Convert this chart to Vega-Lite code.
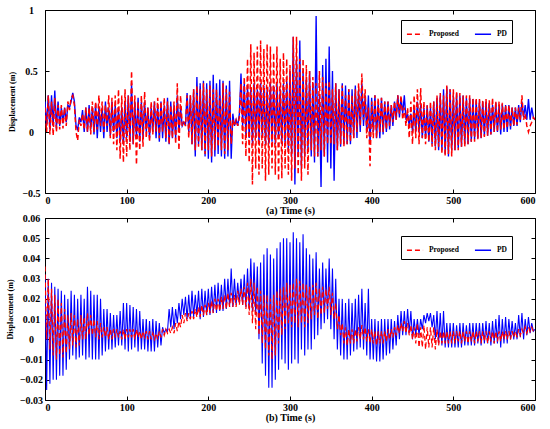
{
"$schema":"https://vega.github.io/schema/vega-lite/v6.json",
"padding":{"top":4,"left":5,"right":5,"bottom":2},
"spacing":-4,
"resolve":{"scale":{"color":"independent","strokeDash":"independent"},"legend":{"color":"independent","strokeDash":"independent"}},
"config":{
 "view":{"stroke":"black","strokeWidth":1},
 "font":"Liberation Serif",
 "axis":{"grid":false,"domain":false,"tickSize":-4,"tickColor":"black","labelFont":"Liberation Serif","labelFontWeight":"bold","labelFontSize":10,"labelColor":"black","titleFont":"Liberation Serif","titleFontWeight":"bold","titleColor":"black"},
 "legend":{"orient":"none","direction":"horizontal","strokeColor":"black","fillColor":"white","padding":5,"labelFont":"Liberation Serif","labelFontWeight":"bold","labelFontSize":7.5,"labelColor":"black","symbolSize":260,"symbolStrokeWidth":1.5,"columnPadding":12,"labelOffset":5}
},
"datasets":{"d":[
{"t":0,"a":0.2,"b":0.25,"c":0.036,"d":0.032},
{"t":2,"a":0.0,"b":0.05,"c":0.0,"d":-0.025},
{"t":4,"a":0.3,"b":0.3,"c":0.03,"d":0.03},
{"t":6,"a":-0.02,"b":0.02,"c":-0.005,"d":-0.022},
{"t":8,"a":0.25,"b":0.3,"c":0.025,"d":0.028},
{"t":10,"a":-0.03,"b":0.05,"c":-0.008,"d":-0.02},
{"t":12,"a":0.28,"b":0.34,"c":0.022,"d":0.026},
{"t":14,"a":0.0,"b":0.03,"c":-0.01,"d":-0.02},
{"t":16,"a":0.22,"b":0.25,"c":0.02,"d":0.025},
{"t":18,"a":0.02,"b":0.05,"c":-0.008,"d":-0.018},
{"t":20,"a":0.22,"b":0.2,"c":0.018,"d":0.024},
{"t":22,"a":0.03,"b":0.07,"c":-0.009,"d":-0.018},
{"t":24,"a":0.2,"b":0.2,"c":0.015,"d":0.022},
{"t":26,"a":0.05,"b":0.08,"c":-0.007,"d":-0.015},
{"t":28,"a":0.25,"b":0.22,"c":0.012,"d":0.02},
{"t":30,"a":0.18,"b":0.2,"c":-0.005,"d":-0.01},
{"t":32,"a":0.28,"b":0.25,"c":0.013,"d":0.024},
{"t":34,"a":0.3,"b":0.32,"c":-0.003,"d":-0.008},
{"t":36,"a":0.22,"b":0.25,"c":0.012,"d":0.022},
{"t":38,"a":0.0,"b":0.05,"c":-0.004,"d":-0.01},
{"t":40,"a":-0.07,"b":0.02,"c":0.01,"d":0.02},
{"t":42,"a":0.1,"b":0.12,"c":-0.003,"d":-0.009},
{"t":44,"a":0.05,"b":0.08,"c":0.012,"d":0.022},
{"t":46,"a":0.15,"b":0.18,"c":0.0,"d":-0.008},
{"t":48,"a":0.02,"b":0.0,"c":0.011,"d":0.02},
{"t":50,"a":0.2,"b":0.2,"c":0.0,"d":-0.01},
{"t":52,"a":0.0,"b":0.0,"c":0.013,"d":0.026},
{"t":54,"a":0.2,"b":0.22,"c":0.002,"d":-0.009},
{"t":56,"a":-0.02,"b":0.02,"c":0.012,"d":0.024},
{"t":58,"a":0.25,"b":0.2,"c":0.002,"d":-0.01},
{"t":60,"a":0.0,"b":-0.02,"c":0.01,"d":0.022},
{"t":62,"a":0.25,"b":0.23,"c":0.001,"d":-0.01},
{"t":64,"a":0.02,"b":-0.05,"c":0.009,"d":0.022},
{"t":66,"a":0.3,"b":0.2,"c":0.0,"d":-0.01},
{"t":68,"a":0.05,"b":0.0,"c":0.008,"d":0.02},
{"t":70,"a":0.25,"b":0.2,"c":0.001,"d":-0.008},
{"t":72,"a":0.0,"b":-0.05,"c":0.006,"d":0.015},
{"t":74,"a":0.22,"b":0.25,"c":0.001,"d":-0.006},
{"t":76,"a":0.05,"b":0.0,"c":0.006,"d":0.015},
{"t":78,"a":0.3,"b":0.2,"c":0.0,"d":-0.005},
{"t":80,"a":-0.05,"b":-0.03,"c":0.005,"d":0.013},
{"t":82,"a":0.28,"b":0.25,"c":0.0,"d":-0.005},
{"t":84,"a":-0.1,"b":0.0,"c":0.005,"d":0.012},
{"t":86,"a":0.3,"b":0.22,"c":0.001,"d":-0.004},
{"t":88,"a":-0.15,"b":-0.05,"c":0.005,"d":0.012},
{"t":90,"a":0.35,"b":0.2,"c":0.001,"d":-0.003},
{"t":92,"a":-0.22,"b":-0.08,"c":0.004,"d":0.014},
{"t":94,"a":0.3,"b":0.2,"c":0.0,"d":-0.003},
{"t":96,"a":-0.25,"b":-0.1,"c":0.005,"d":0.018},
{"t":98,"a":0.35,"b":0.25,"c":0.0,"d":-0.005},
{"t":100,"a":-0.2,"b":-0.05,"c":0.005,"d":0.018},
{"t":102,"a":0.3,"b":0.3,"c":0.001,"d":-0.006},
{"t":104,"a":-0.15,"b":-0.08,"c":0.005,"d":0.017},
{"t":106,"a":0.5,"b":0.4,"c":0.001,"d":-0.005},
{"t":108,"a":-0.1,"b":-0.1,"c":0.005,"d":0.016},
{"t":110,"a":0.3,"b":0.25,"c":0.0,"d":-0.004},
{"t":112,"a":-0.27,"b":-0.05,"c":0.005,"d":0.015},
{"t":114,"a":0.25,"b":0.28,"c":0.001,"d":-0.006},
{"t":116,"a":-0.15,"b":-0.08,"c":0.004,"d":0.014},
{"t":118,"a":0.3,"b":0.25,"c":0.0,"d":-0.005},
{"t":120,"a":-0.12,"b":-0.05,"c":0.004,"d":0.01},
{"t":122,"a":0.33,"b":0.25,"c":0.001,"d":-0.005},
{"t":124,"a":-0.05,"b":0.0,"c":0.004,"d":0.01},
{"t":126,"a":0.2,"b":0.2,"c":0.0,"d":-0.006},
{"t":128,"a":-0.08,"b":-0.05,"c":0.004,"d":0.009},
{"t":130,"a":0.25,"b":0.2,"c":0.0,"d":-0.006},
{"t":132,"a":-0.02,"b":0.0,"c":0.003,"d":0.01},
{"t":134,"a":0.25,"b":0.25,"c":0.0,"d":-0.006},
{"t":136,"a":0.0,"b":-0.05,"c":0.003,"d":0.009},
{"t":138,"a":0.28,"b":0.22,"c":0.0,"d":-0.004},
{"t":140,"a":-0.05,"b":-0.08,"c":0.004,"d":0.008},
{"t":142,"a":0.25,"b":0.25,"c":0.001,"d":-0.003},
{"t":144,"a":0.0,"b":-0.05,"c":0.005,"d":0.006},
{"t":146,"a":0.28,"b":0.22,"c":0.002,"d":0.003},
{"t":148,"a":-0.05,"b":-0.08,"c":0.005,"d":0.005},
{"t":150,"a":0.25,"b":0.28,"c":0.003,"d":0.004},
{"t":152,"a":-0.1,"b":-0.1,"c":0.005,"d":0.015},
{"t":154,"a":0.22,"b":0.25,"c":0.003,"d":0.006},
{"t":156,"a":-0.05,"b":-0.05,"c":0.006,"d":0.016},
{"t":158,"a":0.25,"b":0.22,"c":0.003,"d":0.005},
{"t":160,"a":-0.1,"b":-0.05,"c":0.008,"d":0.015},
{"t":162,"a":0.4,"b":0.3,"c":0.004,"d":0.008},
{"t":164,"a":-0.15,"b":0.0,"c":0.009,"d":0.018},
{"t":166,"a":0.3,"b":0.2,"c":0.006,"d":0.01},
{"t":168,"a":0.05,"b":0.05,"c":0.012,"d":0.02},
{"t":170,"a":0.08,"b":0.08,"c":0.008,"d":0.012},
{"t":172,"a":0.05,"b":0.06,"c":0.013,"d":0.021},
{"t":174,"a":0.3,"b":0.32,"c":0.009,"d":0.01},
{"t":176,"a":-0.05,"b":0.0,"c":0.013,"d":0.022},
{"t":178,"a":0.3,"b":0.3,"c":0.01,"d":0.01},
{"t":180,"a":-0.1,"b":-0.1,"c":0.014,"d":0.024},
{"t":182,"a":0.35,"b":0.35,"c":0.01,"d":0.011},
{"t":184,"a":-0.15,"b":-0.2,"c":0.015,"d":0.022},
{"t":186,"a":0.38,"b":0.45,"c":0.011,"d":0.012},
{"t":188,"a":-0.12,"b":-0.1,"c":0.016,"d":0.024},
{"t":190,"a":0.35,"b":0.4,"c":0.011,"d":0.01},
{"t":192,"a":-0.15,"b":-0.15,"c":0.017,"d":0.025},
{"t":194,"a":0.4,"b":0.42,"c":0.012,"d":0.011},
{"t":196,"a":-0.18,"b":-0.2,"c":0.017,"d":0.024},
{"t":198,"a":0.35,"b":0.4,"c":0.012,"d":0.012},
{"t":200,"a":-0.15,"b":-0.22,"c":0.018,"d":0.025},
{"t":202,"a":0.38,"b":0.42,"c":0.013,"d":0.012},
{"t":204,"a":-0.2,"b":-0.25,"c":0.019,"d":0.026},
{"t":206,"a":0.35,"b":0.47,"c":0.013,"d":0.013},
{"t":208,"a":-0.15,"b":-0.2,"c":0.02,"d":0.027},
{"t":210,"a":0.35,"b":0.4,"c":0.014,"d":0.013},
{"t":212,"a":-0.12,"b":-0.18,"c":0.02,"d":0.028},
{"t":214,"a":0.3,"b":0.43,"c":0.014,"d":0.014},
{"t":216,"a":-0.15,"b":-0.2,"c":0.021,"d":0.027},
{"t":218,"a":0.4,"b":0.42,"c":0.015,"d":0.014},
{"t":220,"a":-0.18,"b":-0.22,"c":0.022,"d":0.03},
{"t":222,"a":0.35,"b":0.38,"c":0.015,"d":0.015},
{"t":224,"a":-0.15,"b":-0.2,"c":0.023,"d":0.03},
{"t":226,"a":0.33,"b":0.42,"c":0.016,"d":0.016},
{"t":228,"a":-0.1,"b":-0.22,"c":0.023,"d":0.035},
{"t":230,"a":0.1,"b":0.15,"c":0.016,"d":0.016},
{"t":232,"a":0.05,"b":0.05,"c":0.022,"d":0.03},
{"t":234,"a":0.1,"b":0.1,"c":0.016,"d":0.017},
{"t":236,"a":0.05,"b":0.05,"c":0.024,"d":0.028},
{"t":238,"a":0.12,"b":0.15,"c":0.017,"d":0.018},
{"t":240,"a":0.4,"b":0.48,"c":0.025,"d":0.03},
{"t":242,"a":-0.1,"b":0.05,"c":0.017,"d":0.017},
{"t":244,"a":0.45,"b":0.4,"c":0.026,"d":0.032},
{"t":246,"a":-0.2,"b":-0.05,"c":0.015,"d":0.016},
{"t":248,"a":0.6,"b":0.38,"c":0.028,"d":0.035},
{"t":250,"a":-0.25,"b":-0.05,"c":0.012,"d":0.015},
{"t":252,"a":0.72,"b":0.35,"c":0.03,"d":0.04},
{"t":254,"a":-0.43,"b":-0.1,"c":0.008,"d":0.014},
{"t":256,"a":0.65,"b":0.4,"c":0.028,"d":0.038},
{"t":258,"a":-0.3,"b":-0.05,"c":0.005,"d":0.012},
{"t":260,"a":0.7,"b":0.35,"c":0.026,"d":0.036},
{"t":262,"a":-0.35,"b":-0.08,"c":0.002,"d":0.0},
{"t":264,"a":0.75,"b":0.4,"c":0.024,"d":0.038},
{"t":266,"a":-0.3,"b":-0.05,"c":-0.002,"d":-0.012},
{"t":268,"a":0.68,"b":0.38,"c":0.022,"d":0.042},
{"t":270,"a":-0.4,"b":-0.1,"c":-0.005,"d":-0.018},
{"t":272,"a":0.72,"b":0.35,"c":0.022,"d":0.045},
{"t":274,"a":-0.35,"b":-0.1,"c":-0.008,"d":-0.024},
{"t":276,"a":0.7,"b":0.4,"c":0.02,"d":0.042},
{"t":278,"a":-0.3,"b":-0.08,"c":-0.01,"d":-0.024},
{"t":280,"a":0.65,"b":0.38,"c":0.022,"d":0.04},
{"t":282,"a":-0.35,"b":-0.1,"c":-0.008,"d":-0.02},
{"t":284,"a":0.7,"b":0.4,"c":0.024,"d":0.045},
{"t":286,"a":-0.4,"b":-0.05,"c":-0.002,"d":-0.015},
{"t":288,"a":0.6,"b":0.35,"c":0.025,"d":0.048},
{"t":290,"a":-0.38,"b":-0.1,"c":0.002,"d":-0.01},
{"t":292,"a":0.65,"b":0.4,"c":0.026,"d":0.05},
{"t":294,"a":-0.3,"b":-0.1,"c":0.005,"d":-0.012},
{"t":296,"a":0.6,"b":0.42,"c":0.028,"d":0.05},
{"t":298,"a":-0.35,"b":-0.15,"c":0.008,"d":-0.015},
{"t":300,"a":0.55,"b":0.5,"c":0.027,"d":0.048},
{"t":302,"a":-0.4,"b":-0.2,"c":0.006,"d":-0.012},
{"t":304,"a":0.78,"b":0.78,"c":0.028,"d":0.053},
{"t":306,"a":-0.3,"b":-0.43,"c":0.008,"d":-0.01},
{"t":308,"a":0.78,"b":0.6,"c":0.03,"d":0.05},
{"t":310,"a":-0.35,"b":-0.2,"c":0.006,"d":-0.012},
{"t":312,"a":0.6,"b":0.75,"c":0.029,"d":0.048},
{"t":314,"a":-0.4,"b":-0.3,"c":0.008,"d":-0.005},
{"t":316,"a":0.6,"b":0.5,"c":0.028,"d":0.052},
{"t":318,"a":-0.3,"b":-0.2,"c":0.006,"d":-0.008},
{"t":320,"a":0.55,"b":0.45,"c":0.027,"d":0.045},
{"t":322,"a":-0.35,"b":-0.15,"c":0.008,"d":-0.005},
{"t":324,"a":0.5,"b":0.5,"c":0.026,"d":0.042},
{"t":326,"a":-0.15,"b":-0.2,"c":0.01,"d":-0.005},
{"t":328,"a":0.45,"b":0.4,"c":0.027,"d":0.04},
{"t":330,"a":-0.2,"b":-0.25,"c":0.012,"d":0.0},
{"t":332,"a":0.4,"b":0.95,"c":0.028,"d":0.043},
{"t":334,"a":-0.2,"b":-0.2,"c":0.01,"d":0.002},
{"t":336,"a":0.5,"b":0.3,"c":0.025,"d":0.035},
{"t":338,"a":-0.15,"b":-0.45,"c":0.012,"d":0.005},
{"t":340,"a":0.45,"b":0.55,"c":0.026,"d":0.038},
{"t":342,"a":-0.2,"b":-0.2,"c":0.013,"d":0.008},
{"t":344,"a":0.4,"b":0.6,"c":0.025,"d":0.035},
{"t":346,"a":-0.1,"b":-0.25,"c":0.015,"d":0.01},
{"t":348,"a":0.42,"b":0.7,"c":0.026,"d":0.04},
{"t":350,"a":-0.1,"b":-0.3,"c":0.012,"d":0.005},
{"t":352,"a":0.35,"b":0.5,"c":0.023,"d":0.035},
{"t":354,"a":-0.1,"b":-0.4,"c":0.01,"d":0.0},
{"t":356,"a":0.4,"b":0.4,"c":0.018,"d":0.03},
{"t":358,"a":-0.15,"b":-0.15,"c":0.005,"d":-0.005},
{"t":360,"a":0.35,"b":0.35,"c":0.012,"d":0.02},
{"t":362,"a":-0.1,"b":-0.12,"c":0.002,"d":-0.008},
{"t":364,"a":0.38,"b":0.4,"c":0.008,"d":0.02},
{"t":366,"a":-0.12,"b":-0.1,"c":-0.002,"d":-0.01},
{"t":368,"a":0.3,"b":0.38,"c":0.006,"d":0.018},
{"t":370,"a":-0.1,"b":-0.1,"c":-0.003,"d":-0.01},
{"t":372,"a":0.35,"b":0.35,"c":0.005,"d":0.02},
{"t":374,"a":-0.08,"b":-0.1,"c":-0.002,"d":-0.008},
{"t":376,"a":0.3,"b":0.35,"c":0.005,"d":0.018},
{"t":378,"a":-0.05,"b":-0.05,"c":-0.002,"d":-0.006},
{"t":380,"a":0.35,"b":0.38,"c":0.005,"d":0.02},
{"t":382,"a":0.0,"b":-0.05,"c":-0.001,"d":-0.005},
{"t":384,"a":0.4,"b":0.35,"c":0.006,"d":0.022},
{"t":386,"a":0.05,"b":0.0,"c":0.0,"d":-0.004},
{"t":388,"a":0.48,"b":0.4,"c":0.007,"d":0.025},
{"t":390,"a":0.1,"b":0.05,"c":0.0,"d":-0.005},
{"t":392,"a":0.35,"b":0.3,"c":0.006,"d":0.018},
{"t":394,"a":-0.05,"b":0.0,"c":-0.001,"d":-0.008},
{"t":396,"a":0.2,"b":0.3,"c":0.005,"d":0.025},
{"t":398,"a":-0.28,"b":-0.1,"c":-0.002,"d":-0.01},
{"t":400,"a":0.25,"b":0.28,"c":0.005,"d":0.01},
{"t":402,"a":-0.05,"b":0.0,"c":-0.002,"d":-0.01},
{"t":404,"a":0.3,"b":0.3,"c":0.004,"d":0.01},
{"t":406,"a":-0.05,"b":-0.05,"c":-0.003,"d":-0.011},
{"t":408,"a":0.28,"b":0.25,"c":0.004,"d":0.009},
{"t":410,"a":0.0,"b":-0.05,"c":-0.002,"d":-0.011},
{"t":412,"a":0.28,"b":0.28,"c":0.004,"d":0.01},
{"t":414,"a":0.0,"b":-0.02,"c":-0.002,"d":-0.01},
{"t":416,"a":0.25,"b":0.25,"c":0.004,"d":0.01},
{"t":418,"a":0.02,"b":0.0,"c":-0.001,"d":-0.008},
{"t":420,"a":0.25,"b":0.25,"c":0.005,"d":0.01},
{"t":422,"a":0.05,"b":0.02,"c":0.0,"d":-0.007},
{"t":424,"a":0.22,"b":0.22,"c":0.005,"d":0.01},
{"t":426,"a":0.08,"b":0.05,"c":0.001,"d":-0.005},
{"t":428,"a":0.25,"b":0.25,"c":0.006,"d":0.009},
{"t":430,"a":0.1,"b":0.1,"c":0.002,"d":-0.003},
{"t":432,"a":0.3,"b":0.3,"c":0.007,"d":0.012},
{"t":434,"a":0.15,"b":0.12,"c":0.003,"d":0.0},
{"t":436,"a":0.3,"b":0.28,"c":0.008,"d":0.014},
{"t":438,"a":0.1,"b":0.15,"c":0.004,"d":0.002},
{"t":440,"a":0.2,"b":0.3,"c":0.009,"d":0.014},
{"t":442,"a":0.05,"b":0.1,"c":0.003,"d":0.002},
{"t":444,"a":0.2,"b":0.15,"c":0.008,"d":0.015},
{"t":446,"a":-0.05,"b":0.05,"c":0.002,"d":0.003},
{"t":448,"a":0.25,"b":0.15,"c":0.007,"d":0.014},
{"t":450,"a":-0.1,"b":0.0,"c":0.0,"d":0.0},
{"t":452,"a":0.3,"b":0.2,"c":0.006,"d":0.01},
{"t":454,"a":-0.05,"b":0.0,"c":-0.002,"d":0.002},
{"t":456,"a":0.35,"b":0.25,"c":0.008,"d":0.01},
{"t":458,"a":-0.1,"b":0.0,"c":-0.004,"d":0.002},
{"t":460,"a":0.36,"b":0.22,"c":0.006,"d":0.01},
{"t":462,"a":-0.05,"b":-0.05,"c":-0.004,"d":0.005},
{"t":464,"a":0.25,"b":0.2,"c":0.007,"d":0.012},
{"t":466,"a":-0.1,"b":-0.05,"c":-0.005,"d":0.008},
{"t":468,"a":0.22,"b":0.22,"c":0.006,"d":0.013},
{"t":470,"a":-0.08,"b":-0.08,"c":-0.004,"d":0.009},
{"t":472,"a":0.25,"b":0.2,"c":0.006,"d":0.013},
{"t":474,"a":-0.12,"b":-0.1,"c":-0.004,"d":0.006},
{"t":476,"a":0.25,"b":0.25,"c":0.006,"d":0.012},
{"t":478,"a":-0.15,"b":-0.12,"c":-0.005,"d":0.0},
{"t":480,"a":0.3,"b":0.28,"c":0.005,"d":0.014},
{"t":482,"a":-0.12,"b":-0.15,"c":-0.003,"d":-0.002},
{"t":484,"a":0.32,"b":0.3,"c":0.004,"d":0.013},
{"t":486,"a":-0.18,"b":-0.15,"c":-0.002,"d":-0.003},
{"t":488,"a":0.3,"b":0.35,"c":0.004,"d":0.014},
{"t":490,"a":-0.2,"b":-0.18,"c":-0.002,"d":-0.004},
{"t":492,"a":0.38,"b":0.37,"c":0.004,"d":0.008},
{"t":494,"a":-0.18,"b":-0.2,"c":-0.002,"d":-0.004},
{"t":496,"a":0.35,"b":0.35,"c":0.004,"d":0.008},
{"t":498,"a":-0.2,"b":-0.15,"c":-0.002,"d":-0.004},
{"t":500,"a":0.35,"b":0.3,"c":0.004,"d":0.008},
{"t":502,"a":-0.15,"b":-0.15,"c":-0.002,"d":-0.004},
{"t":504,"a":0.33,"b":0.32,"c":0.004,"d":0.007},
{"t":506,"a":-0.15,"b":-0.13,"c":-0.001,"d":-0.004},
{"t":508,"a":0.32,"b":0.3,"c":0.004,"d":0.008},
{"t":510,"a":-0.12,"b":-0.12,"c":-0.002,"d":-0.004},
{"t":512,"a":0.3,"b":0.3,"c":0.004,"d":0.008},
{"t":514,"a":-0.12,"b":-0.1,"c":-0.001,"d":-0.003},
{"t":516,"a":0.3,"b":0.28,"c":0.004,"d":0.007},
{"t":518,"a":-0.1,"b":-0.1,"c":-0.002,"d":-0.003},
{"t":520,"a":0.3,"b":0.28,"c":0.004,"d":0.008},
{"t":522,"a":-0.08,"b":-0.08,"c":-0.001,"d":-0.003},
{"t":524,"a":0.28,"b":0.27,"c":0.004,"d":0.008},
{"t":526,"a":-0.08,"b":-0.06,"c":-0.002,"d":-0.003},
{"t":528,"a":0.28,"b":0.26,"c":0.004,"d":0.008},
{"t":530,"a":-0.06,"b":-0.05,"c":-0.001,"d":-0.002},
{"t":532,"a":0.27,"b":0.26,"c":0.004,"d":0.008},
{"t":534,"a":-0.05,"b":-0.05,"c":-0.002,"d":-0.003},
{"t":536,"a":0.26,"b":0.25,"c":0.004,"d":0.008},
{"t":538,"a":-0.04,"b":-0.03,"c":-0.001,"d":-0.002},
{"t":540,"a":0.27,"b":0.25,"c":0.004,"d":0.009},
{"t":542,"a":-0.03,"b":-0.03,"c":-0.002,"d":-0.002},
{"t":544,"a":0.26,"b":0.24,"c":0.004,"d":0.008},
{"t":546,"a":-0.02,"b":-0.02,"c":-0.001,"d":-0.003},
{"t":548,"a":0.28,"b":0.22,"c":0.004,"d":0.009},
{"t":550,"a":0.0,"b":0.0,"c":-0.002,"d":-0.002},
{"t":552,"a":0.25,"b":0.24,"c":0.004,"d":0.01},
{"t":554,"a":0.0,"b":0.0,"c":-0.001,"d":-0.002},
{"t":556,"a":0.25,"b":0.22,"c":0.004,"d":0.012},
{"t":558,"a":0.02,"b":-0.02,"c":-0.001,"d":-0.004},
{"t":560,"a":0.24,"b":0.23,"c":0.004,"d":0.01},
{"t":562,"a":0.02,"b":0.0,"c":0.0,"d":-0.002},
{"t":564,"a":0.22,"b":0.22,"c":0.004,"d":0.011},
{"t":566,"a":0.03,"b":0.0,"c":0.0,"d":-0.002},
{"t":568,"a":0.22,"b":0.22,"c":0.004,"d":0.01},
{"t":570,"a":0.05,"b":0.02,"c":0.0,"d":0.0},
{"t":572,"a":0.2,"b":0.2,"c":0.004,"d":0.009},
{"t":574,"a":0.05,"b":0.05,"c":0.001,"d":0.0},
{"t":576,"a":0.2,"b":0.2,"c":0.004,"d":0.008},
{"t":578,"a":0.06,"b":0.05,"c":0.001,"d":0.0},
{"t":580,"a":0.2,"b":0.22,"c":0.005,"d":0.012},
{"t":582,"a":0.1,"b":0.08,"c":0.002,"d":0.001},
{"t":584,"a":0.3,"b":0.25,"c":0.005,"d":0.013},
{"t":586,"a":0.1,"b":0.12,"c":0.003,"d":0.0},
{"t":588,"a":0.15,"b":0.22,"c":0.006,"d":0.01},
{"t":590,"a":0.05,"b":0.1,"c":0.003,"d":0.002},
{"t":592,"a":0.0,"b":0.27,"c":0.006,"d":0.011},
{"t":594,"a":0.05,"b":0.1,"c":0.004,"d":0.003},
{"t":596,"a":0.08,"b":0.2,"c":0.006,"d":0.008},
{"t":598,"a":0.12,"b":0.12,"c":0.004,"d":0.004},
{"t":600,"a":0.1,"b":0.1,"c":0.005,"d":0.005}
]},
"vconcat":[
{
 "width":490,"height":183,
 "layer":[
  {
   "data":{"name":"d"},
   "transform":[{"fold":["b","a"],"as":["s","v"]}],
   "mark":{"type":"line","clip":true},
   "encoding":{
    "x":{"field":"t","type":"quantitative","scale":{"domain":[0,600],"nice":false},"axis":{"orient":"bottom","values":[0,100,200,300,400,500,600],"format":"d","title":"(a) Time (s)","titleFontSize":10,"labelPadding":6,"titlePadding":0}},
    "y":{"field":"v","type":"quantitative","scale":{"domain":[-0.5,1],"nice":false,"zero":false},"axis":{"orient":"left","values":[-0.5,0,0.5,1],"format":"~g","title":"Displacement (m)","titleFontSize":8,"labelAlign":"center","labelPadding":18,"titlePadding":5}},
    "color":{"field":"s","type":"nominal","scale":{"domain":["a","b"],"range":["#ff0000","#0000ff"]},"legend":{"title":null,"legendX":356,"legendY":10,"labelExpr":"datum.value == 'a' ? 'Proposed' : 'PD'"}},
    "strokeDash":{"field":"s","type":"nominal","scale":{"domain":["a","b"],"range":[[5,3],[1,0]]},"legend":{"title":null,"legendX":356,"legendY":10,"labelExpr":"datum.value == 'a' ? 'Proposed' : 'PD'"}},
    "strokeWidth":{"field":"s","type":"nominal","scale":{"domain":["a","b","c","d"],"range":[1.5,1.1,1.5,1.1]},"legend":null}
   }
  },
  {
   "data":{"values":[{"t":0,"v":0}]},
   "mark":{"type":"point","opacity":0},
   "encoding":{
    "x":{"field":"t","type":"quantitative","axis":{"orient":"top","labels":false,"title":null,"values":[0,100,200,300,400,500,600]}},
    "y":{"field":"v","type":"quantitative","axis":{"orient":"right","labels":false,"title":null,"values":[-0.5,0,0.5,1]}}
   }
  }
 ]
},
{
 "width":490,"height":182,
 "layer":[
  {
   "data":{"name":"d"},
   "transform":[{"fold":["d","c"],"as":["s","v"]}],
   "mark":{"type":"line","clip":true},
   "encoding":{
    "x":{"field":"t","type":"quantitative","scale":{"domain":[0,600],"nice":false},"axis":{"orient":"bottom","values":[0,100,200,300,400,500,600],"format":"d","title":"(b) Time (s)","titleFontSize":10,"labelPadding":6,"titlePadding":0}},
    "y":{"field":"v","type":"quantitative","scale":{"domain":[-0.03,0.06],"nice":false,"zero":false},"axis":{"orient":"left","values":[-0.03,-0.02,-0.01,0,0.01,0.02,0.03,0.04,0.05,0.06],"format":"~g","title":"Displacement (m)","titleFontSize":8,"labelAlign":"center","labelPadding":18,"titlePadding":5}},
    "color":{"field":"s","type":"nominal","scale":{"domain":["c","d"],"range":["#ff0000","#0000ff"]},"legend":{"title":null,"legendX":356,"legendY":18,"labelExpr":"datum.value == 'c' ? 'Proposed' : 'PD'"}},
    "strokeDash":{"field":"s","type":"nominal","scale":{"domain":["c","d"],"range":[[5,3],[1,0]]},"legend":{"title":null,"legendX":356,"legendY":18,"labelExpr":"datum.value == 'c' ? 'Proposed' : 'PD'"}},
    "strokeWidth":{"field":"s","type":"nominal","scale":{"domain":["a","b","c","d"],"range":[1.5,1.1,1.5,1.1]},"legend":null}
   }
  },
  {
   "data":{"values":[{"t":0,"v":0}]},
   "mark":{"type":"point","opacity":0},
   "encoding":{
    "x":{"field":"t","type":"quantitative","axis":{"orient":"top","labels":false,"title":null,"values":[0,100,200,300,400,500,600]}},
    "y":{"field":"v","type":"quantitative","axis":{"orient":"right","labels":false,"title":null,"values":[-0.03,-0.02,-0.01,0,0.01,0.02,0.03,0.04,0.05,0.06]}}
   }
  }
 ]
}
]
}
